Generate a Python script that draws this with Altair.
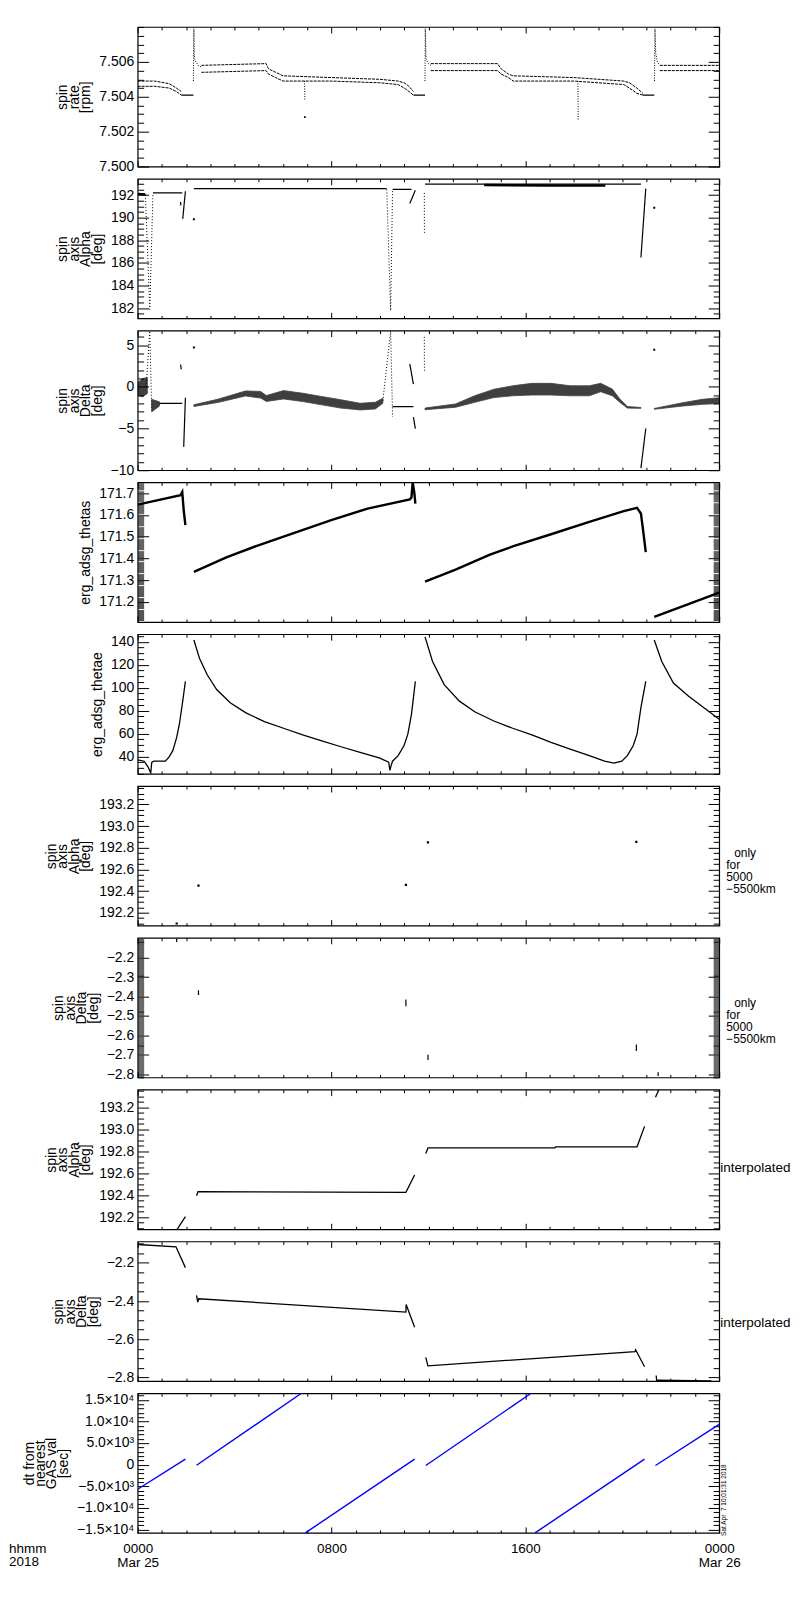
import altair as alt
import pandas as pd

FONT = "Liberation Sans"
W = 583
H = 140

# ---------------- x axis (hours of 2018-03-25) ----------------
X_MAJOR = [0, 8, 16, 24]
X_MINOR = [1, 2, 3, 4, 5, 6, 7, 9, 10, 11, 12, 13, 14, 15, 17, 18, 19, 20, 21, 22, 23]
XLEXPR = ("datum.value == 0 ? ['0000','Mar 25'] : datum.value == 8 ? '0800' : "
          "datum.value == 16 ? '1600' : ['0000','Mar 26']")

# ---------------- panel 1 : spin rate ----------------
P1_BAND_SEG = [1, 1, 1, 1, 1,
               2, 2, 2, 2, 2, 2, 2, 2, 2, 2, 2,
               3, 3, 3, 3, 3, 3, 3, 3, 3, 3,
               4, 4]
P1_BAND_H = [0, 0.7, 1.3, 1.6, 1.8,
             2.63, 5.3, 5.4, 5.7, 6.0, 8.0, 10.0, 10.75, 11.0, 11.2, 11.38,
             12.1, 14.85, 15.0, 15.3, 15.5, 18.0, 20.06, 20.3, 20.6, 20.85,
             21.55, 24.0]
P1_BAND_LO = [7.5046, 7.5046, 7.5045, 7.5043, 7.5041,
              7.5054, 7.5055, 7.5053, 7.5051, 7.5049, 7.5049, 7.5048, 7.5047, 7.5045, 7.5043, 7.5041,
              7.5055, 7.5055, 7.5053, 7.5051, 7.5049, 7.5049, 7.5047, 7.5045, 7.5042, 7.5041,
              7.5055, 7.5055]
P1_BAND_HI = [7.5049, 7.5049, 7.50475, 7.5045, 7.5043,
              7.5058, 7.5059, 7.5056, 7.5054, 7.5052, 7.5051, 7.5050, 7.5049, 7.5048, 7.5046, 7.5043,
              7.5059, 7.5059, 7.5056, 7.5053, 7.5052, 7.5051, 7.5049, 7.5048, 7.5045, 7.5042,
              7.5058, 7.5058]
P1_LINE_SEG = [1, 1, 2, 2, 3, 3]
P1_LINE_H = [1.8, 2.3, 11.38, 11.86, 20.85, 21.32]
P1_LINE_V = [7.5041, 7.5041, 7.5041, 7.5041, 7.5041, 7.5041]
P1_DOT_SEG = [1, 1, 1, 1, 1, 1, 2, 2, 3, 3, 3, 3, 3, 4, 4, 5, 5, 5, 5, 5]
P1_DOT_H = [2.3, 2.32, 2.34, 2.4, 2.5, 2.63, 6.89, 6.9, 11.86, 11.87, 11.9, 12.0, 12.1,
            18.17, 18.18, 21.33, 21.35, 21.38, 21.45, 21.55]
P1_DOT_V = [7.5049, 7.5079, 7.5062, 7.5060, 7.5058, 7.5057, 7.5049, 7.5038,
            7.5049, 7.5079, 7.5062, 7.5059, 7.5058, 7.5049, 7.5027,
            7.5049, 7.5079, 7.5065, 7.5060, 7.5058]
P1_PT_H = [6.9]
P1_PT_V = [7.50284]

# ---------------- panel 2 : spin axis Alpha ----------------
P2_LINE_SEG = [1, 1, 2, 2, 3, 3, 4, 4, 5, 5, 6, 6, 7, 7, 8, 8]
P2_LINE_H = [0.63, 1.84, 1.77, 1.78, 1.86, 1.97, 2.32, 10.28, 10.52, 11.3,
             11.23, 11.46, 11.86, 20.77, 20.77, 20.97]
P2_LINE_V = [192.2, 192.2, 191.4, 191.1, 189.9, 192.35, 192.58, 192.58, 192.52, 192.52,
             191.26, 192.44, 192.97, 192.97, 186.48, 192.58]
P2_THICK_SEG = [1, 1, 2, 2, 2]
P2_THICK_H = [0, 0.32, 14.3, 17.0, 19.3]
P2_THICK_V = [192.1, 192.05, 192.9, 192.86, 192.86]
P2_DOT_SEG = [1, 1, 1, 2, 2, 2, 3, 3]
P2_DOT_H = [0.32, 0.5, 0.63, 10.28, 10.44, 10.52, 11.83, 11.835]
P2_DOT_V = [192.0, 181.9, 192.1, 192.5, 181.8, 192.5, 192.2, 188.5]
P2_PT_H = [2.32, 21.32]
P2_PT_V = [189.88, 190.88]

# ---------------- panel 3 : spin axis Delta ----------------
P3_BAND_SEG = [1, 1, 1, 2, 2,
               3, 3, 3, 3, 3, 3, 3, 3, 3, 3, 3, 3,
               4, 4, 4, 4, 4, 4, 4, 4, 4, 4, 4, 4, 4, 4,
               5, 5, 5, 5]
P3_BAND_H = [0, 0.2, 0.4, 0.58, 0.9,
             2.32, 3.34, 4.45, 5.08, 5.31, 6.02, 6.81, 7.6, 8.39, 9.18, 9.81, 10.12,
             11.86, 13.12, 13.91, 14.7, 15.48, 16.27, 17.06, 17.85, 18.64, 19.11, 19.59, 19.9, 20.21, 20.77,
             21.32, 22.5, 23.3, 24.0]
P3_BAND_LO = [-1.0, -1.2, -0.8, -3.0, -2.3,
              -2.35, -1.86, -1.09, -1.35, -1.75, -1.45, -1.76, -2.16, -2.55, -2.77, -2.65, -1.96,
              -2.74, -2.45, -1.86, -1.29, -1.07, -0.98, -0.98, -1.07, -1.07, -0.58, -1.07, -1.86, -2.55, -2.58,
              -2.69, -2.3, -2.1, -2.01]
P3_BAND_HI = [0.5, 1.0, 1.1, -1.5, -1.8,
              -2.15, -1.46, -0.49, -0.55, -1.05, -0.45, -0.76, -1.16, -1.55, -1.97, -1.85, -1.36,
              -2.54, -2.05, -1.06, -0.29, 0.13, 0.42, 0.42, 0.13, 0.13, 0.42, -0.27, -1.46, -2.35, -2.48,
              -2.59, -1.9, -1.5, -1.31]
P3_LINE_SEG = [1, 1, 2, 2, 3, 3, 4, 4, 5, 5, 6, 6, 7, 7]
P3_LINE_H = [0.9, 1.84, 1.77, 1.8, 1.9, 1.97, 10.52, 11.38, 11.23, 11.38, 11.38, 11.46, 20.77, 20.97]
P3_LINE_V = [-1.97, -1.97, 2.68, 2.09, -7.2, -1.3, -2.37, -2.37, 2.76, 0.32, -3.63, -5.0, -9.74, -5.0]
P3_DOT_SEG = [1, 1, 1, 2, 2, 2, 3, 3]
P3_DOT_H = [0.35, 0.5, 0.58, 10.12, 10.44, 10.52, 11.83, 11.835]
P3_DOT_V = [0.0, 6.7, -2.8, -1.66, 6.7, -3.6, 6.0, 1.9]
P3_PT_H = [2.32, 21.32]
P3_PT_V = [4.73, 4.46]

# ---------------- panel 4 : erg_adsg_thetas ----------------
P4_SEG = [1, 1, 1, 1, 1,
          2, 2, 2, 2, 2, 2, 2, 2, 2, 2, 2,
          3, 3, 3, 3, 3, 3, 3, 3, 3, 3, 3,
          4, 4]
P4_H = [0, 1.77, 1.84, 1.9, 1.97,
        2.32, 3.66, 4.92, 6.02, 7.99, 9.49, 11.23, 11.3, 11.35, 11.42, 11.46,
        11.86, 13.12, 14.54, 15.48, 17.06, 18.64, 20.06, 20.61, 20.77, 20.85, 20.97,
        21.32, 24.0]
P4_V = [171.647, 171.69, 171.705, 171.62, 171.553,
        171.338, 171.405, 171.458, 171.5, 171.576, 171.629, 171.671, 171.68, 171.749, 171.70, 171.652,
        171.293, 171.349, 171.417, 171.455, 171.511, 171.568, 171.617, 171.632, 171.606, 171.538, 171.429,
        171.132, 171.243]

# ---------------- panel 5 : erg_adsg_thetae ----------------
P5_SEG = [1] * 13 + [2] * 22 + [3] * 19 + [4] * 6
P5_H = [0, 0.27, 0.43, 0.54, 0.58, 0.66, 1.14, 1.29, 1.45, 1.61, 1.72, 1.84, 1.97,
        2.32, 2.55, 2.87, 3.26, 3.82, 4.45, 5.23, 6.02, 6.81, 7.6, 8.39, 9.18, 9.97, 10.36,
        10.41, 10.47, 10.52, 10.75, 10.99, 11.15, 11.3, 11.46,
        11.86, 12.17, 12.65, 13.28, 13.91, 14.7, 15.48, 16.27, 17.06, 17.85, 18.64, 19.27,
        19.66, 19.98, 20.21, 20.45, 20.61, 20.77, 20.97,
        21.32, 21.63, 22.11, 22.74, 23.37, 24.0]
P5_V = [37.2, 36.0, 30.9, 25.7, 35.0, 36.0, 36.0, 39.5, 45.2, 56.7, 68.2, 85.4, 105.5,
        141.5, 125.7, 111.3, 98.4, 86.9, 78.3, 70.5, 64.7, 59.0, 53.8, 48.6, 43.8, 38.9, 35.1,
        28.0, 33.0, 36.0, 40.9, 49.5, 59.6, 76.8, 105.5,
        144.3, 122.8, 102.7, 88.3, 79.1, 71.0, 64.7, 59.0, 52.4, 46.6, 40.9, 36.0,
        34.3, 36.0, 40.9, 49.5, 59.6, 82.6, 105.5,
        141.5, 122.8, 104.1, 92.6, 82.6, 72.5]

# ---------------- panel 6 : Alpha only for 5000-5500km ----------------
P6_PT_H = [1.61, 2.51, 11.07, 11.98, 20.58]
P6_PT_V = [192.1, 192.45, 192.457, 192.85, 192.855]

# ---------------- panel 7 : Delta only for 5000-5500km ----------------
P7_SEG = [1, 1, 2, 2, 3, 3, 4, 4, 5, 5, 6, 6]
P7_H = [1.61, 1.611, 2.51, 2.511, 11.07, 11.071, 11.98, 11.981, 20.58, 20.581, 21.48, 21.481]
P7_V = [-2.100, -2.118, -2.367, -2.392, -2.415, -2.45, -2.70, -2.727, -2.647, -2.68, -2.79, -2.81]

# ---------------- panel 8 : Alpha interpolated ----------------
P8_SEG = [1, 1, 2, 2, 2, 2, 3, 3, 3, 3, 3, 3, 4, 4]
P8_H = [1.61, 1.97, 2.43, 2.49, 11.07, 11.43, 11.89, 11.98, 17.22, 17.25, 20.61, 20.92, 21.37, 21.51]
P8_V = [192.083, 192.206, 192.395, 192.432, 192.426, 192.583, 192.78, 192.83, 192.83, 192.84,
        192.84, 193.026, 193.29, 193.36]

# ---------------- panel 9 : Delta interpolated ----------------
P9_SEG = [1, 1, 1, 2, 2, 2, 2, 2, 2, 3, 3, 3, 3, 3, 4, 4, 4, 4]
P9_H = [0, 1.58, 1.97, 2.43, 2.48, 2.52, 11.07, 11.08, 11.43,
        11.89, 11.98, 20.53, 20.55, 20.92, 21.4, 21.42, 21.48, 23.68]
P9_V = [-2.104, -2.116, -2.225, -2.37, -2.405, -2.388, -2.458, -2.418, -2.537,
        -2.695, -2.739, -2.665, -2.655, -2.744, -2.79, -2.818, -2.814, -2.818]

# ---------------- panel 10 : dt from nearest GAS val ----------------
P10_SEG = [1, 1, 2, 2, 3, 3, 4, 4, 5, 5, 6, 6]
P10_H = [0, 1.97, 2.43, 6.76, 6.92, 11.43, 11.89, 16.24, 16.4, 20.92, 21.37, 24.0]
P10_V = [-5700, 1250, -150, 16500, -15800, 1250, -200, 16500, -15800, 1250, -200, 9300]
P10_LEXPR = ("datum.value == 15000 ? '1.5\u00d710\u2074' : datum.value == 10000 ? '1.0\u00d710\u2074' : "
             "datum.value == 5000 ? '5.0\u00d710\u00b3' : datum.value == 0 ? '0' : "
             "datum.value == -5000 ? '\u22125.0\u00d710\u00b3' : datum.value == -10000 ? '\u22121.0\u00d710\u2074' : "
             "'\u22121.5\u00d710\u2074'")

# right-hand notes
ONLY_LINES = ["only", "for", "5000", "\u22125500km"]
ONLY_DX = [8, 0, 0, 0]


def ticks(lo, hi, step, exclude):
    out = []
    n = int(round((hi - lo) / step))
    for k in range(n + 1):
        t = round(lo + k * step, 6)
        if all(abs(t - e) > step / 10 for e in exclude):
            out.append(t)
    return out


XS = alt.Scale(domain=[0, 24], nice=False, zero=False)


def yscale(dom):
    return alt.Scale(domain=dom, nice=False, zero=False)


COMM = dict(domain=False, grid=False, tickColor="black", title=None)


def axis_layers(dom, ymaj, ymin, title, fmt=None, lexpr=None, last=False, minor_w=1.0):
    ys = yscale(dom)
    df = pd.DataFrame({"h": [0.0], "v": [dom[0]]})
    base = alt.Chart(df).mark_point(opacity=0, size=1)
    yl = dict(orient="left", values=ymaj, tickSize=11, offset=-11, labelFont=FONT,
              labelFontSize=14, labelColor="black", labelPadding=4, labelOverlap=False,
              labelFlush=False, domain=False, grid=False, tickColor="black", tickWidth=1,
              title=title, titleFont=FONT, titleFontSize=14, titleFontWeight="normal",
              titleColor="black", titleLineHeight=11.5, titlePadding=6)
    if fmt:
        yl["format"] = fmt
    if lexpr:
        yl["labelExpr"] = lexpr
    if last:
        xb = dict(orient="bottom", values=X_MAJOR, tickSize=6, offset=-6, labels=True,
                  labelExpr=XLEXPR, labelFont=FONT, labelFontSize=13.5, labelColor="black",
                  labelPadding=9, labelFlush=False, labelOverlap=False, labelLineHeight=13.5,
                  tickWidth=1, **COMM)
    else:
        xb = dict(orient="bottom", values=X_MAJOR, tickSize=6, offset=-6, labels=False,
                  tickWidth=1, **COMM)
    A = base.encode(x=alt.X("h:Q", scale=XS, axis=alt.Axis(**xb)),
                    y=alt.Y("v:Q", scale=ys, axis=alt.Axis(**yl)))
    B = base.encode(
        x=alt.X("h:Q", scale=XS, axis=alt.Axis(orient="bottom", values=X_MINOR, tickSize=3,
                                               offset=-3, labels=False, tickWidth=1, **COMM)),
        y=alt.Y("v:Q", scale=ys, axis=alt.Axis(orient="left", values=ymin, tickSize=6,
                                               offset=-6, labels=False, tickWidth=minor_w, **COMM)))
    C = base.encode(
        x=alt.X("h:Q", scale=XS, axis=alt.Axis(orient="top", values=X_MAJOR, tickSize=6,
                                               offset=-6, labels=False, tickWidth=1, **COMM)),
        y=alt.Y("v:Q", scale=ys, axis=alt.Axis(orient="right", values=ymaj, tickSize=11,
                                               offset=-11, labels=False, tickWidth=1, **COMM)))
    D = base.encode(
        x=alt.X("h:Q", scale=XS, axis=alt.Axis(orient="top", values=X_MINOR, tickSize=3,
                                               offset=-3, labels=False, tickWidth=1, **COMM)),
        y=alt.Y("v:Q", scale=ys, axis=alt.Axis(orient="right", values=ymin, tickSize=6,
                                               offset=-6, labels=False, tickWidth=minor_w, **COMM)))
    return [A, B, C, D]


def line_layer(dom, h, v, seg, width=1.0, color="black", dash=None):
    df = pd.DataFrame({"h": h, "v": v, "seg": seg, "i": list(range(len(h)))})
    kw = dict(color=color, strokeWidth=width, clip=True)
    if dash:
        kw["strokeDash"] = dash
    return alt.Chart(df).mark_line(**kw).encode(
        x=alt.X("h:Q", scale=XS, axis=None),
        y=alt.Y("v:Q", scale=yscale(dom), axis=None),
        detail="seg:N", order="i:Q")


def area_layer(dom, h, lo, hi, seg):
    df = pd.DataFrame({"h": h, "lo": lo, "hi": hi, "seg": seg})
    return alt.Chart(df).mark_area(color="black", opacity=0.75, stroke="black",
                                   strokeWidth=0.8, clip=True).encode(
        x=alt.X("h:Q", scale=XS, axis=None),
        y=alt.Y("lo:Q", scale=yscale(dom), axis=None),
        y2="hi:Q", detail="seg:N")


def point_layer(dom, h, v, size=5):
    df = pd.DataFrame({"h": h, "v": v})
    return alt.Chart(df).mark_square(color="black", size=size, opacity=1, clip=True).encode(
        x=alt.X("h:Q", scale=XS, axis=None),
        y=alt.Y("v:Q", scale=yscale(dom), axis=None))


ONE = pd.DataFrame({"k": [0]})


def text_layer(text, x, y, **kw):
    mk = dict(text=text, font=FONT, color="black", align="left", baseline="middle")
    mk.update(kw)
    return alt.Chart(ONE).mark_text(**mk).encode(x=alt.value(x), y=alt.value(y))


def only_layers(y0):
    return [text_layer(t, W + 7 + dx, y0 + k * 12, fontSize=12)
            for k, (t, dx) in enumerate(zip(ONLY_LINES, ONLY_DX))]


def panel(layers):
    return alt.layer(*layers).properties(width=W, height=H).resolve_axis(
        x="independent", y="independent")


ALPHA_T = ["spin", "axis", "Alpha", "[deg]"]
DELTA_T = ["spin", "axis", "Delta", "[deg]"]

# panel 1
d1 = [7.500, 7.508]
m1 = [7.500, 7.502, 7.504, 7.506]
p1 = panel(axis_layers(d1, m1, ticks(7.500, 7.508, 0.0005, m1), ["spin", "rate", "[rpm]"], ".3f") + [
    line_layer(d1, P1_BAND_H, P1_BAND_LO, P1_BAND_SEG, 1.0, dash=[3, 1]),
    line_layer(d1, P1_BAND_H, P1_BAND_HI, P1_BAND_SEG, 1.0, dash=[3, 1]),
    line_layer(d1, P1_LINE_H, P1_LINE_V, P1_LINE_SEG, 1.2),
    line_layer(d1, P1_DOT_H, P1_DOT_V, P1_DOT_SEG, 1.0, dash=[1, 1.5]),
    point_layer(d1, P1_PT_H, P1_PT_V, 3),
])

# panel 2
d2 = [181.1, 193.45]
m2 = [182, 184, 186, 188, 190, 192]
p2 = panel(axis_layers(d2, m2, ticks(181.5, 193.0, 0.5, m2), ALPHA_T, "d") + [
    line_layer(d2, P2_LINE_H, P2_LINE_V, P2_LINE_SEG, 1.2),
    line_layer(d2, P2_THICK_H, P2_THICK_V, P2_THICK_SEG, 2.5),
    line_layer(d2, P2_DOT_H, P2_DOT_V, P2_DOT_SEG, 1.0, dash=[1, 2]),
    point_layer(d2, P2_PT_H, P2_PT_V, 4),
])

# panel 3
d3 = [-10.0, 6.75]
m3 = [-10, -5, 0, 5]
p3 = panel(axis_layers(d3, m3, ticks(-9, 6, 1, m3), DELTA_T, "d") + [
    area_layer(d3, P3_BAND_H, P3_BAND_LO, P3_BAND_HI, P3_BAND_SEG),
    line_layer(d3, P3_LINE_H, P3_LINE_V, P3_LINE_SEG, 1.2),
    line_layer(d3, P3_DOT_H, P3_DOT_V, P3_DOT_SEG, 1.0, dash=[1, 2]),
    point_layer(d3, P3_PT_H, P3_PT_V, 4),
])

# panel 4
d4 = [171.108, 171.749]
m4 = [171.2, 171.3, 171.4, 171.5, 171.6, 171.7]
p4 = panel(axis_layers(d4, m4, ticks(171.11, 171.745, 0.005, m4), "erg_adsg_thetas", ".1f",
                       minor_w=0.7) + [
    line_layer(d4, P4_H, P4_V, P4_SEG, 2.4),
])

# panel 5
d5 = [25.0, 146.6]
m5 = [40, 60, 80, 100, 120, 140]
p5 = panel(axis_layers(d5, m5, ticks(25, 145, 5, m5), "erg_adsg_thetae", "d") + [
    line_layer(d5, P5_H, P5_V, P5_SEG, 1.3),
])

# panel 6
d6 = [192.08, 193.37]
m6 = [192.2, 192.4, 192.6, 192.8, 193.0, 193.2]
p6 = panel(axis_layers(d6, m6, ticks(192.1, 193.35, 0.05, m6), ALPHA_T, ".1f") + [
    point_layer(d6, P6_PT_H, P6_PT_V, 5),
] + only_layers(67))

# panel 7
d7 = [-2.817, -2.097]
m7 = [-2.8, -2.7, -2.6, -2.5, -2.4, -2.3, -2.2]
p7 = panel(axis_layers(d7, m7, ticks(-2.815, -2.1, 0.005, m7), DELTA_T, ".1f", minor_w=0.7) + [
    line_layer(d7, P7_H, P7_V, P7_SEG, 1.2),
] + only_layers(65))

# panel 8
d8 = [192.09, 193.36]
p8 = panel(axis_layers(d8, m6, ticks(192.1, 193.35, 0.05, m6), ALPHA_T, ".1f") + [
    line_layer(d8, P8_H, P8_V, P8_SEG, 1.3),
    text_layer("interpolated", W + 1, 79, fontSize=13.5),
])

# panel 9
d9 = [-2.819, -2.088]
m9 = [-2.8, -2.6, -2.4, -2.2]
p9 = panel(axis_layers(d9, m9, ticks(-2.8, -2.1, 0.05, m9), DELTA_T, ".1f") + [
    line_layer(d9, P9_H, P9_V, P9_SEG, 1.3),
    text_layer("interpolated", W + 1, 82, fontSize=13.5),
])

# panel 10
d10 = [-15800, 16500]
m10 = [-15000, -10000, -5000, 0, 5000, 10000, 15000]
p10 = panel(axis_layers(d10, m10, ticks(-15000, 16000, 1000, m10),
                        ["dt from", "nearest", "GAS val", "[sec]"], lexpr=P10_LEXPR, last=True) + [
    line_layer(d10, P10_H, P10_V, P10_SEG, 1.4, color="#0000ff"),
    text_layer("Sat Apr\u00a0\u00a07 10:01:31 2018", W + 4.5, H + 3, fontSize=6.5, angle=270),
    text_layer(["hhmm", "2018"], -129, H + 9, fontSize=13.5, lineHeight=13.5, baseline="top"),
])

chart = alt.vconcat(p1, p2, p3, p4, p5, p6, p7, p8, p9, p10, spacing=12.2, bounds="flush").properties(
    padding={"left": 0, "top": 15, "right": 0, "bottom": 5},
    background="white",
).configure_view(stroke="black", strokeWidth=1.2)

chart.save("out.html", embed_options={"renderer": "svg", "actions": False})
